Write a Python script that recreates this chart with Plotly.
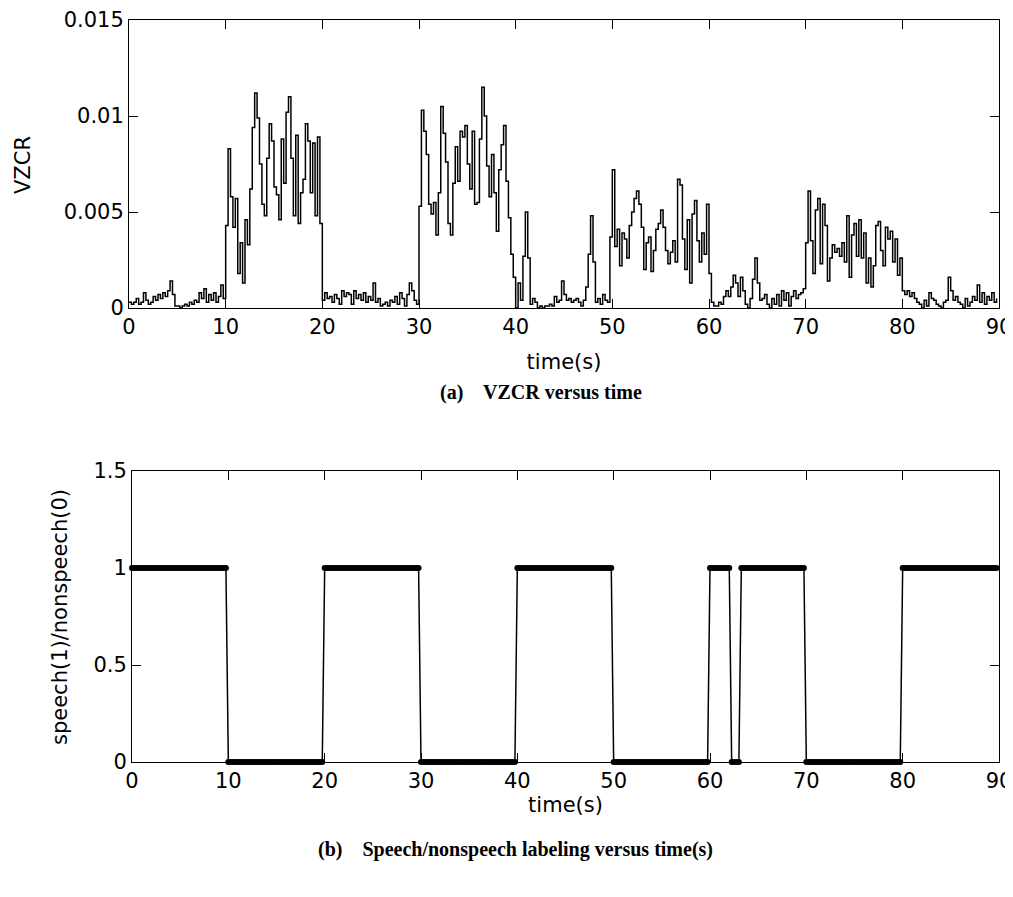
import plotly.graph_objects as go

# VZCR, in units of 1e-3, one value every 0.25 s
vzcr_00_10 = [0.3, 0.2, 0.3, 0.5, 0.2, 0.3, 0.8, 0.4, 0.2, 0.3,
              0.6, 0.4, 0.7, 0.5, 0.8, 0.6, 0.9, 1.4, 0.7, 0.1,
              0.1, 0.0, 0.1, 0.2, 0.1, 0.3, 0.2, 0.4, 0.3, 0.8,
              0.5, 1.0, 0.3, 0.7, 0.4, 0.8, 0.3, 0.6, 1.2, 0.5]
vzcr_10_20 = [4.3, 8.3, 5.8, 4.2, 5.7, 1.8, 3.4, 1.3, 4.6, 3.3,
              6.2, 9.4, 11.2, 9.9, 7.5, 5.4, 4.8, 7.8, 9.6, 8.7,
              6.3, 5.9, 4.6, 8.8, 6.5, 10.2, 11.0, 7.8, 4.8, 9.0,
              4.4, 6.0, 6.7, 9.6, 8.7, 6.0, 8.6, 4.8, 8.9, 4.4]
vzcr_20_30 = [0.4, 0.8, 0.5, 0.6, 0.3, 0.7, 0.5, 0.2, 0.9, 0.6,
              0.8, 0.7, 0.2, 0.9, 0.5, 0.7, 0.4, 0.8, 0.3, 0.6,
              0.4, 1.3, 0.3, 0.5, 0.1, 0.2, 0.3, 0.1, 0.4, 0.3,
              0.6, 0.2, 0.8, 0.5, 0.1, 0.7, 1.3, 0.9, 0.4, 0.2]
vzcr_30_40 = [5.3, 10.3, 9.2, 8.0, 5.4, 4.9, 5.5, 3.8, 6.0, 10.5,
              9.1, 7.6, 4.4, 3.8, 6.5, 8.4, 6.6, 9.2, 8.9, 9.5,
              7.5, 6.2, 9.2, 5.4, 5.5, 8.8, 11.5, 10.0, 7.4, 5.8,
              8.0, 6.0, 4.0, 7.2, 8.5, 9.5, 6.6, 4.7, 2.8, 1.6]
vzcr_40_50 = [0.0, 1.3, 0.4, 2.7, 5.0, 2.6, 0.2, 0.5, 0.3, 0.0,
              0.1, 0.0, 0.1, 0.1, 0.2, 0.1, 0.6, 0.3, 0.4, 1.4,
              0.7, 0.4, 0.5, 0.3, 0.4, 0.5, 0.3, 0.1, 0.4, 1.1,
              2.8, 4.8, 2.4, 0.3, 0.5, 0.2, 0.7, 0.4, 0.3, 3.7]
vzcr_50_60 = [7.2, 3.2, 4.1, 2.2, 3.9, 3.6, 2.6, 4.3, 5.0, 5.7,
              6.1, 5.4, 4.2, 2.0, 3.4, 3.7, 1.9, 3.0, 4.1, 4.4,
              5.1, 4.2, 3.0, 2.3, 2.9, 3.5, 2.4, 6.7, 6.4, 3.6,
              2.0, 4.6, 1.3, 4.9, 5.6, 3.5, 2.4, 3.9, 2.8, 5.4]
vzcr_60_70 = [1.8, 0.3, 0.1, 0.1, 0.3, 0.2, 0.6, 0.9, 0.6, 1.1,
              1.7, 1.3, 0.6, 1.6, 0.9, 0.2, 0.0, 0.5, 1.5, 2.6,
              1.3, 0.4, 0.5, 0.7, 0.2, 0.0, 0.5, 0.2, 0.7, 0.1,
              0.9, 0.4, 0.8, 0.1, 0.6, 0.9, 0.5, 0.7, 0.8, 1.0]
vzcr_70_80 = [3.4, 6.1, 3.5, 1.8, 5.1, 5.7, 2.3, 5.4, 4.3, 1.4,
              2.6, 3.3, 2.9, 3.1, 2.7, 3.4, 2.4, 4.8, 1.6, 3.8,
              4.4, 2.7, 4.6, 2.6, 3.9, 1.3, 2.6, 1.1, 2.2, 4.3,
              4.5, 3.0, 2.2, 4.2, 3.6, 4.0, 2.4, 3.6, 1.7, 2.6]
vzcr_80_90 = [0.9, 0.7, 0.9, 0.6, 0.8, 0.5, 0.3, 0.2, 0.0, 0.4,
              0.1, 0.8, 0.5, 0.4, 0.2, 0.1, 0.0, 0.3, 0.4, 1.6,
              0.9, 0.4, 0.6, 0.3, 0.2, 0.0, 0.5, 0.1, 0.3, 0.6,
              0.4, 1.2, 0.3, 0.8, 0.2, 0.6, 0.4, 0.8, 0.3, 0.5]

# speech(1)/nonspeech(0) labels as runs of 0.25 s frames
label_values = [1, 0, 1, 0, 1, 0, 1, 0, 1, 0, 1]
label_counts = [40, 40, 40, 40, 40, 40, 9, 4, 27, 40, 40]

x_ticks = [0, 10, 20, 30, 40, 50, 60, 70, 80, 90]
vzcr_ticks = [0, 5, 10, 15]
vzcr_ticktext = ['0', '0.005', '0.01', '0.015']
label_ticks = [0, 0.5, 1, 1.5]
label_ticktext = ['0', '0.5', '1', '1.5']

frame_step = 0.25

vzcr = (vzcr_00_10 + vzcr_10_20 + vzcr_20_30 + vzcr_30_40 + vzcr_40_50
        + vzcr_50_60 + vzcr_60_70 + vzcr_70_80 + vzcr_80_90)
t_vzcr = [round(i * frame_step, 2) for i in range(len(vzcr))]

labels = []
for v, n in zip(label_values, label_counts):
    labels += [v] * n
t_labels = [round(i * frame_step, 2) for i in range(len(labels))]

# the page body has an 8px margin, so the figure sits at (8, 8)
OFF = 8
W, H = 1013 - OFF, 870


def px(x):
    return (x - OFF) / W


def py(y):
    return 1 - (y - OFF) / H


tick_font = dict(family='DejaVu Sans', size=21, color='black')
title_font = dict(family='DejaVu Sans', size=21, color='black')
cap_font = dict(family='Liberation Serif', size=20, color='black')

fig = go.Figure()

fig.add_trace(go.Scatter(
    x=t_vzcr, y=vzcr, mode='lines', line=dict(color='black', width=1.5, shape='hv'),
    xaxis='x', yaxis='y'))

fig.add_trace(go.Scatter(
    x=t_labels, y=labels, mode='lines+markers',
    line=dict(color='black', width=1.5), marker=dict(color='black', size=6),
    cliponaxis=False, xaxis='x2', yaxis='y2'))

axis_common = dict(showline=True, linecolor='black', linewidth=1, mirror='allticks',
                   ticks='inside', ticklen=9, tickcolor='black', showgrid=False,
                   zeroline=False, tickfont=tick_font, automargin=False,
                   ticklabeloverflow='allow')

fig.update_layout(
    width=W, height=H,
    margin=dict(l=0, r=0, t=0, b=0),
    paper_bgcolor='white', plot_bgcolor='white',
    showlegend=False,
    xaxis=dict(domain=[px(129), px(999)], range=[0, 90], tickvals=x_ticks,
               anchor='y', title=dict(text='time(s)', font=title_font, standoff=16),
               **axis_common),
    yaxis=dict(domain=[py(308), py(20)], range=[0, 15], tickvals=vzcr_ticks,
               ticktext=vzcr_ticktext, anchor='x', **axis_common),
    xaxis2=dict(domain=[px(132), px(999)], range=[0, 90], tickvals=x_ticks,
                anchor='y2', title=dict(text='time(s)', font=title_font, standoff=4),
                **axis_common),
    yaxis2=dict(domain=[py(762), py(471)], range=[0, 1.5], tickvals=label_ticks,
                ticktext=label_ticktext, anchor='x2', **axis_common),
)

# y axis titles placed where the reference has them
fig.add_annotation(text='VZCR', x=px(23), y=py(165), xref='paper', yref='paper',
                   textangle=-90, showarrow=False, font=title_font,
                   xanchor='center', yanchor='middle')
fig.add_annotation(text='speech(1)/nonspeech(0)', x=px(60), y=py(617),
                   xref='paper', yref='paper', textangle=-90, showarrow=False,
                   font=title_font, xanchor='center', yanchor='middle')

# figure captions under each panel
fig.add_annotation(text='<b>(a)    VZCR versus time</b>', x=px(541), y=py(392),
                   xref='paper', yref='paper', showarrow=False, font=cap_font)
fig.add_annotation(text='<b>(b)    Speech/nonspeech labeling versus time(s)</b>',
                   x=px(515), y=py(863), xref='paper', yref='paper',
                   showarrow=False, font=cap_font)

fig.write_html('out.html')
